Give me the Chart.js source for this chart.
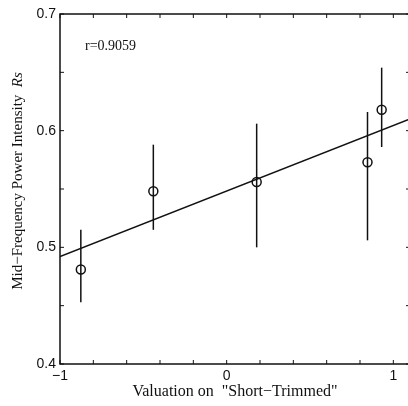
<!DOCTYPE html>
<html>
<head>
<meta charset="utf-8">
<script src="https://cdn.jsdelivr.net/npm/chart.js@4.4.1/dist/chart.umd.min.js"></script>
<style>
  html, body { margin: 0; padding: 0; background: #fff; overflow: hidden; }
  #wrap { width: 420px; height: 406px; }
</style>
</head>
<body>
<div id="wrap"><canvas id="c" width="420" height="406"></canvas></div>
<script>
// data
const xVals = [-0.875, -0.44, 0.18, 0.845, 0.93];
const yVals = [0.481, 0.548, 0.556, 0.573, 0.618];
const yLow  = [0.453, 0.515, 0.500, 0.506, 0.586];
const yHigh = [0.515, 0.588, 0.606, 0.616, 0.654];
// fitted line end points
const fitX = [-1, 1.1];
const fitY = [0.492, 0.610];
const xLabels = [-1, 0, 1];
const yLabels = [0.4, 0.5, 0.6, 0.7];
const rText = 'r=0.9059';

const serif = '"Liberation Serif", "Times New Roman", serif';
const sans = '"Liberation Sans", Arial, sans-serif';

// error bars, inward ticks, frame and labels
const extras = {
    id: 'extras',
    beforeDatasetsDraw(chart) {
        const ctx = chart.ctx, xs = chart.scales.x, ys = chart.scales.y;
        ctx.save();
        ctx.strokeStyle = '#111';
        ctx.lineWidth = 1.5;
        xVals.forEach((xv, i) => {
            const px = xs.getPixelForValue(xv);
            ctx.beginPath();
            ctx.moveTo(px, ys.getPixelForValue(yLow[i]));
            ctx.lineTo(px, ys.getPixelForValue(yHigh[i]));
            ctx.stroke();
        });
        ctx.restore();
    },
    afterDraw(chart) {
        const ctx = chart.ctx, a = chart.chartArea;
        const xs = chart.scales.x, ys = chart.scales.y;
        ctx.save();
        ctx.strokeStyle = '#111';
        ctx.lineWidth = 1.5;
        ctx.strokeRect(a.left, a.top, a.right - a.left, a.bottom - a.top);
        ctx.lineWidth = 1;
        const tl = 4;
        xs.ticks.forEach(t => {
            const px = xs.getPixelForValue(t.value);
            ctx.beginPath();
            ctx.moveTo(px, a.bottom); ctx.lineTo(px, a.bottom - tl);
            ctx.moveTo(px, a.top); ctx.lineTo(px, a.top + tl);
            ctx.stroke();
        });
        ys.ticks.forEach(t => {
            const py = ys.getPixelForValue(t.value);
            ctx.beginPath();
            ctx.moveTo(a.left, py); ctx.lineTo(a.left + tl, py);
            ctx.moveTo(a.right, py); ctx.lineTo(a.right - tl, py);
            ctx.stroke();
        });

        // correlation note
        ctx.fillStyle = '#111';
        ctx.font = '14px ' + serif;
        ctx.textBaseline = 'middle';
        ctx.fillText(rText, 85, 46);

        // y title with italic symbol
        const main = 'Mid\u2212Frequency Power Intensity  ';
        const sym = 'Rs';
        ctx.font = '15px ' + serif;
        const w1 = ctx.measureText(main).width;
        ctx.font = 'italic 15px ' + serif;
        const w2 = ctx.measureText(sym).width;
        ctx.translate(18, 181);
        ctx.rotate(-Math.PI / 2);
        ctx.textAlign = 'left';
        ctx.font = '15px ' + serif;
        ctx.fillText(main, -(w1 + w2) / 2, 0);
        ctx.font = 'italic 15px ' + serif;
        ctx.fillText(sym, -(w1 + w2) / 2 + w1, 0);
        ctx.restore();
    }
};

const scatterPts = xVals.map((x, i) => ({ x: x, y: yVals[i] }));
const fitPts = fitX.map((x, i) => ({ x: x, y: fitY[i] }));

new Chart(document.getElementById('c'), {
    type: 'scatter',
    data: {
        datasets: [
            {
                type: 'line',
                data: fitPts,
                borderColor: '#111',
                borderWidth: 1.5,
                pointRadius: 0,
                fill: false
            },
            {
                data: scatterPts,
                pointStyle: 'circle',
                pointRadius: 4.5,
                pointBorderWidth: 1.5,
                pointBorderColor: '#111',
                pointBackgroundColor: 'rgba(0,0,0,0)'
            }
        ]
    },
    options: {
        responsive: false,
        animation: false,
        layout: { padding: { left: 0, right: 10, top: 14, bottom: 0 } },
        plugins: { legend: { display: false }, tooltip: { enabled: false } },
        scales: {
            x: {
                type: 'linear', min: -1, max: 1.1,
                grid: { display: false, drawTicks: false },
                border: { display: false },
                afterBuildTicks(s) {
                    const out = [];
                    for (let v = -1; v <= 1.0001; v += 0.2) out.push({ value: Math.round(v * 10) / 10 });
                    s.ticks = out;
                },
                ticks: {
                    autoSkip: false, maxRotation: 0,
                    padding: 4,
                    color: '#111',
                    font: { family: sans, size: 14 },
                    callback: v => xLabels.includes(v) ? (v < 0 ? '\u2212' + Math.abs(v) : String(v)) : ''
                },
                title: {
                    display: true,
                    text: 'Valuation on  "Short\u2212Trimmed"',
                    color: '#111',
                    font: { family: serif, size: 16 },
                    padding: { top: 1, bottom: 5 }
                },
                afterFit(s) { s.height = 42; }
            },
            y: {
                type: 'linear', min: 0.4, max: 0.7,
                grid: { display: false, drawTicks: false },
                border: { display: false },
                afterBuildTicks(s) {
                    const out = [];
                    for (let k = 0; k <= 6; k++) out.push({ value: Math.round((0.4 + k * 0.05) * 100) / 100 });
                    s.ticks = out;
                },
                ticks: {
                    autoSkip: false,
                    padding: 4,
                    color: '#111',
                    font: { family: sans, size: 14 },
                    callback: v => yLabels.some(l => Math.abs(l - v) < 1e-6) ? v.toFixed(1) : ''
                },
                afterFit(s) { s.width = 60; }
            }
        }
    },
    plugins: [extras]
});
</script>
</body>
</html>
